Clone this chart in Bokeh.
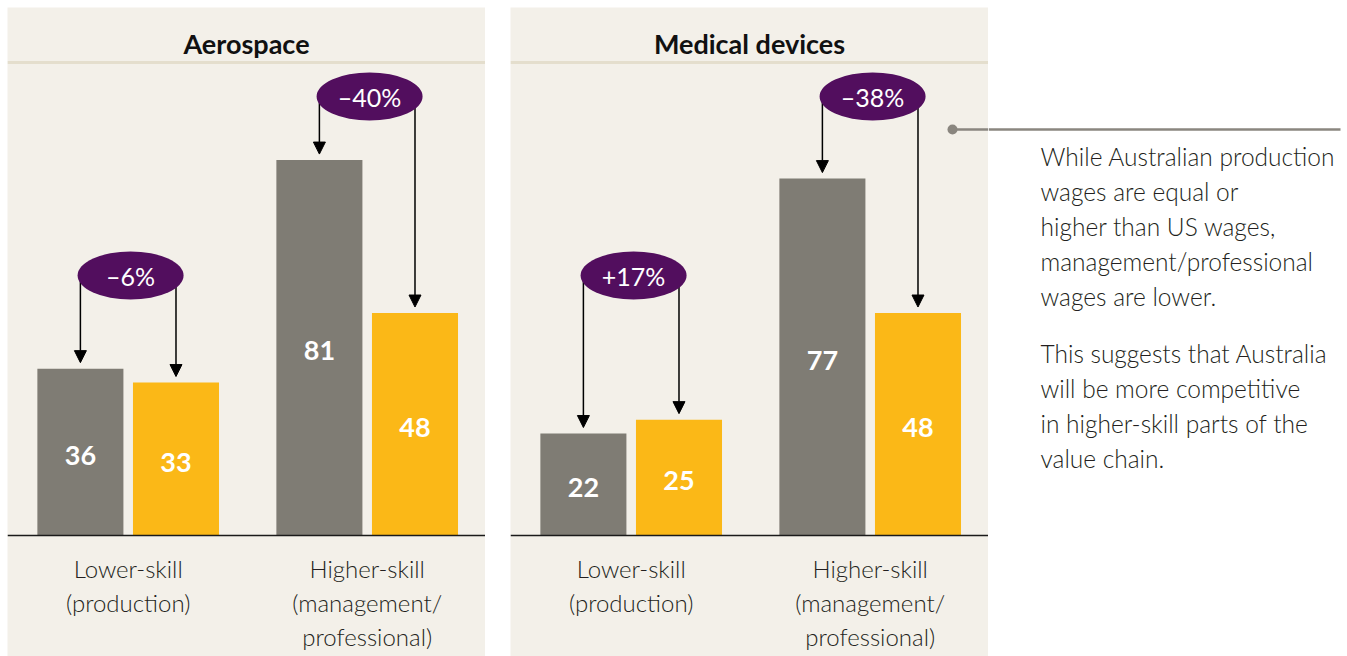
from bokeh.plotting import figure
from bokeh.layouts import row
from bokeh.models import Range1d, Span, Arrow, NormalHead, ColumnDataSource, Spacer
from bokeh.core.properties import value
from bokeh.embed import file_html
from bokeh.resources import INLINE

# ---------------- data ----------------
industries = ["Aerospace", "Medical devices"]
skill_labels = ["Lower-skill\n(production)", "Higher-skill\n(management/\nprofessional)"]
aerospace_us = [36, 81]     # grey bars
aerospace_au = [33, 48]     # yellow bars
medical_us = [22, 77]
medical_au = [25, 48]
aerospace_diff = ["\u20136%", "\u201340%"]
medical_diff = ["+17%", "\u201338%"]
note_para1 = ["While Australian production", "wages are equal or", "higher than US wages,",
              "management/professional", "wages are lower."]
note_para2 = ["This suggests that Australia", "will be more competitive",
              "in higher-skill parts of the", "value chain."]

# ---------------- style / layout ----------------
BG = "#f3f0e9"
GREY = "#7f7c74"
YELLOW = "#fbb817"
PURPLE = "#520e5e"
TITLE_LINE = "#e4decd"
CONN = "#8a867f"
TXT = "#231f20"
FONT = value("Lato")
LIGHT = value("Lato Light")

H = 649
TOP = 7
LEFT = 7
BASE = 535          # screen y of the zero line
K = 4.635           # px per unit
BW = 0.36
OFF = 0.2
SHIFT = 0.005


def dy(screen_y):
    return (BASE - screen_y) / K


BUBBLE_Y = [dy(275), dy(96)]


def panel(title, us, au, diffs, width, connector=False):
    pxu = width / 2.0
    p = figure(width=width, height=H, output_backend="svg", toolbar_location=None,
               x_range=Range1d(0, 2), y_range=Range1d(-(TOP + H - BASE) / K, (BASE - TOP) / K),
               x_axis_type=None, y_axis_type=None, min_border=0,
               outline_line_color=None, background_fill_color=BG, border_fill_color=BG)
    p.grid.visible = False

    n = len(us)
    gx = [i + 0.5 + SHIFT for i in range(n)]
    xs_us = [g - OFF for g in gx]
    xs_au = [g + OFF for g in gx]

    p.add_layout(Span(location=dy(62), dimension="width", line_color=TITLE_LINE, line_width=3))
    p.text(x=[1], y=[dy(43)], text=[title], text_align="center", text_baseline="middle",
           text_font=FONT, text_font_style="bold", text_font_size="27px", text_color="#111111")

    p.vbar(x=xs_us, top=us, bottom=0, width=BW, fill_color=GREY, line_color=None)
    p.vbar(x=xs_au, top=au, bottom=0, width=BW, fill_color=YELLOW, line_color=None)
    p.add_layout(Span(location=0, dimension="width", line_color="#1a1a1a", line_width=1.5))

    vals = us + au
    p.text(x=xs_us + xs_au, y=[v / 2 for v in vals], text=[str(v) for v in vals],
           text_align="center", text_baseline="middle", y_offset=3,
           text_font=FONT, text_font_style="bold", text_font_size="27px", text_color="white")

    # category labels
    lx, ly, lt = [], [], []
    for i, lab in enumerate(skill_labels):
        for j, line in enumerate(lab.split("\n")):
            lx.append(gx[i])
            ly.append(dy(568 + 34 * j))
            lt.append(line)
    p.text(x=lx, y=ly, text=lt, text_align="center", text_baseline="middle",
           text_font=LIGHT, text_font_size="24px", text_color=TXT)

    # arrows from bubble to bars
    ex = [g + 0.01 for g in gx]
    src = ColumnDataSource(dict(
        x0=xs_us + xs_au,
        y0=BUBBLE_Y + BUBBLE_Y,
        y1=[v + 6 / K for v in vals],
    ))
    p.add_layout(Arrow(end=NormalHead(size=12, fill_color="black", line_color="black"),
                       x_start="x0", y_start="y0", x_end="x0", y_end="y1", source=src,
                       line_color="black", line_width=1.5, level="underlay"))
    p.ellipse(x=ex, y=BUBBLE_Y, width=106 / pxu, height=48 / K,
              fill_color=PURPLE, line_color=None)
    p.text(x=ex, y=BUBBLE_Y, text=diffs, text_align="center", text_baseline="middle",
           text_font=FONT, text_font_size="25px", text_color="white")

    if connector:
        cx = 442 / pxu
        cy = dy(129)
        p.segment(x0=[cx], y0=[cy], x1=[2.0], y1=[cy], line_color=CONN, line_width=2.5)
        p.scatter(x=[cx], y=[cy], size=10, fill_color=CONN, line_color=None)
    return p


p1 = panel(industries[0], aerospace_us, aerospace_au, aerospace_diff, 478)
p2 = panel(industries[1], medical_us, medical_au, medical_diff, 478, connector=True)

W3 = 354
p3 = figure(width=W3, height=H, output_backend="svg", toolbar_location=None,
            x_range=Range1d(0, W3), y_range=Range1d(H, 0),
            x_axis_type=None, y_axis_type=None, min_border=0,
            outline_line_color=None, background_fill_color="white", border_fill_color="white")
p3.grid.visible = False
p3.segment(x0=[0], y0=[129 - TOP], x1=[352], y1=[129 - TOP], line_color=CONN, line_width=2.5)
ty, tt = [], []
for i, line in enumerate(note_para1):
    ty.append(155.5 - TOP + 35 * i)
    tt.append(line)
for i, line in enumerate(note_para2):
    ty.append(352.5 - TOP + 35 * i)
    tt.append(line)
p3.text(x=[52] * len(tt), y=ty, text=tt, text_align="left", text_baseline="middle",
        text_font=LIGHT, text_font_size="24.5px", text_color=TXT)

layout = row(p1, Spacer(width=25, height=H), p2, p3)
layout.margin = (TOP, 0, 0, LEFT)

open("out.html", "w").write(file_html(layout, INLINE))
